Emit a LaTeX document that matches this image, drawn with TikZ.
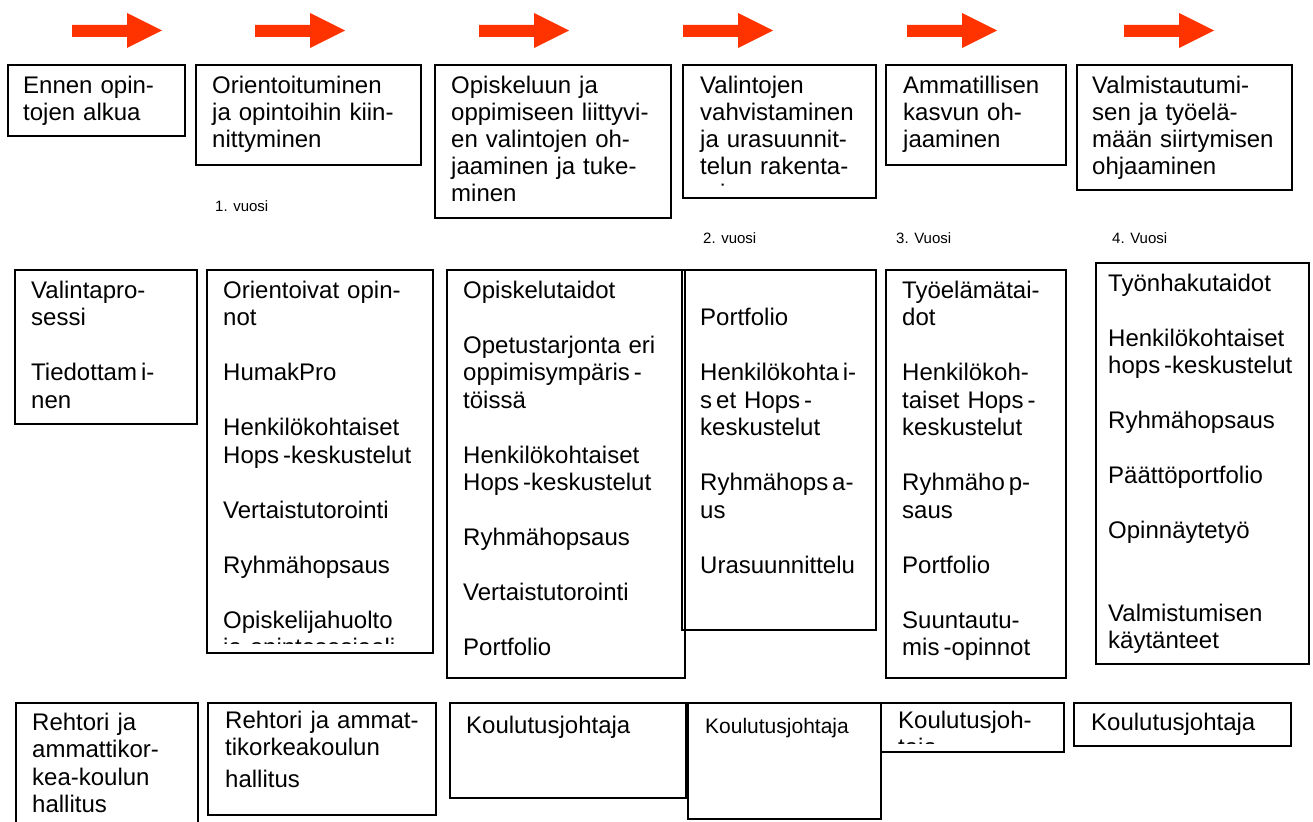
\documentclass[tikz,border=0pt]{standalone}
\usepackage{fontspec}
\setmainfont{Liberation Sans}
\definecolor{nuolenpuna}{RGB}{255,51,0}
\begin{document}
\begin{tikzpicture}[x=1pt,y=-1pt,
	kehys/.style={draw,line width=1.6pt},
	teksti/.style={anchor=base west,align=left,text width=260pt,inner sep=0pt,font=\fontsize{24}{27}\selectfont},
	lista/.style={teksti,font=\fontsize{24}{27.5}\selectfont},
	pieni/.style={anchor=base west,inner sep=0pt,font=\fontsize{15}{18}\selectfont}]
\useasboundingbox (0,0) rectangle (1313,821);
% nuolet
\foreach \x in {72,255,479,683,907,1124} {
	\fill[nuolenpuna] (\x,25) -- ({\x+55},25) -- ({\x+55},13) -- ({\x+90},30.5) -- ({\x+55},48) -- ({\x+55},37) -- (\x,37) -- cycle;
}
% vaiheet
\draw[kehys] (8,65) rectangle (185,136);
\node[teksti] (vaihe1) at (23,94) {Ennen opin-\\tojen alkua};
\draw[kehys] (196,65) rectangle (421,165);
\node[teksti] (vaihe2) at (212,94) {Orientoituminen\\ja opintoihin kiin-\\nittyminen};
\draw[kehys] (435,65) rectangle (671,218);
\node[teksti] (vaihe3) at (451,94) {Opiskeluun ja\\oppimiseen liittyvi-\\en valintojen oh-\\jaaminen ja tuke-\\minen};
\begin{scope}
\clip (683,65) rectangle (876,187);
\node[teksti] (vaihe4) at (700,94) {Valintojen\\vahvistaminen\\ja urasuunnit-\\telun rakenta-\\minen};
\end{scope}
\draw[kehys] (683,65) rectangle (876,198);
\draw[kehys] (886,65) rectangle (1066,165);
\node[teksti] (vaihe5) at (903,94) {Ammatillisen\\kasvun oh-\\jaaminen};
\draw[kehys] (1077,65) rectangle (1292,190);
\node[teksti] (vaihe6) at (1092,94) {Valmistautumi-\\sen ja työelä-\\mään siirtymisen\\ohjaaminen};
% vuodet
\node[pieni] (vuosi1) at (215,211) {1. vuosi};
\node[pieni] (vuosi2) at (703,243) {2. vuosi};
\node[pieni] (vuosi3) at (896,243) {3. Vuosi};
\node[pieni] (vuosi4) at (1112,243) {4. Vuosi};
% sisallot
\draw[kehys] (15,270) rectangle (197,424);
\node[lista] (sisalto1) at (31,298) {Valintapro-\\sessi\\[27.5pt]Tiedottam\,i-\\nen};
\begin{scope}
\clip (207,270) rectangle (433,643.5);
\node[lista] (sisalto2) at (223,298) {Orientoivat opin-\\not\\[27.5pt]HumakPro\\[27.5pt]Henkilökohtaiset\\Hops\,-keskustelut\\[27.5pt]Vertaistutorointi\\[27.5pt]Ryhmähopsaus\\[27.5pt]Opiskelijahuolto\\ja opintososiaali-};
\end{scope}
\draw[kehys] (207,270) rectangle (433,653);
\draw[kehys] (447,270) rectangle (685,678);
\node[lista] (sisalto3) at (463,298) {Opiskelutaidot\\[27.5pt]Opetustarjonta eri\\oppimisympäris\,-\\töissä\\[27.5pt]Henkilökohtaiset\\Hops\,-keskustelut\\[27.5pt]Ryhmähopsaus\\[27.5pt]Vertaistutorointi\\[27.5pt]Portfolio};
\draw[kehys] (682,270) rectangle (876,630);
\node[lista] (sisalto4) at (700,325.5) {Portfolio\\[27.5pt]Henkilökohta\,i-\\s\,et Hops\,-\\keskustelut\\[27.5pt]Ryhmähops\,a-\\us\\[27.5pt]Urasuunnittelu};
\draw[kehys] (886,270) rectangle (1066,678);
\node[lista] (sisalto5) at (902,298) {Työelämätai-\\dot\\[27.5pt]Henkilökoh-\\taiset Hops\,-\\keskustelut\\[27.5pt]Ryhmäho\,p-\\saus\\[27.5pt]Portfolio\\[27.5pt]Suuntautu-\\mis\,-opinnot};
\draw[kehys] (1096,263) rectangle (1309,664);
\node[lista] (sisalto6) at (1108,291) {Työnhakutaidot\\[27.5pt]Henkilökohtaiset\\hops\,-keskustelut\\[27.5pt]Ryhmähopsaus\\[27.5pt]Päättöportfolio\\[27.5pt]Opinnäytetyö\\[55pt]Valmistumisen\\käytänteet};
% vastuut
\draw[kehys] (16,703) rectangle (198,840);
\node[lista] (vastuu1) at (32,730) {Rehtori ja\\ammattikor-\\kea-koulun\\hallitus};
\draw[kehys] (208,703) rectangle (436,815);
\node[teksti] (vastuu2) at (225,728) {Rehtori ja ammat-\\tikorkeakoulun\\[5pt]hallitus};
\draw[kehys] (450,703) rectangle (686,798);
\node[teksti] (vastuu3) at (466,733) {Koulutusjohtaja};
\draw[kehys] (688,703) rectangle (881,819);
\node[teksti,font=\fontsize{21}{25}\selectfont] (vastuu4) at (705,733) {Koulutusjohtaja};
\begin{scope}
\clip (881,703) rectangle (1064,743);
\node[teksti] (vastuu5) at (898,728) {Koulutusjoh-\\taja};
\end{scope}
\draw[kehys] (881,703) rectangle (1064,752);
\draw[kehys] (1074,703) rectangle (1291,746);
\node[teksti] (vastuu6) at (1091,730) {Koulutusjohtaja};
\end{tikzpicture}
\end{document}
